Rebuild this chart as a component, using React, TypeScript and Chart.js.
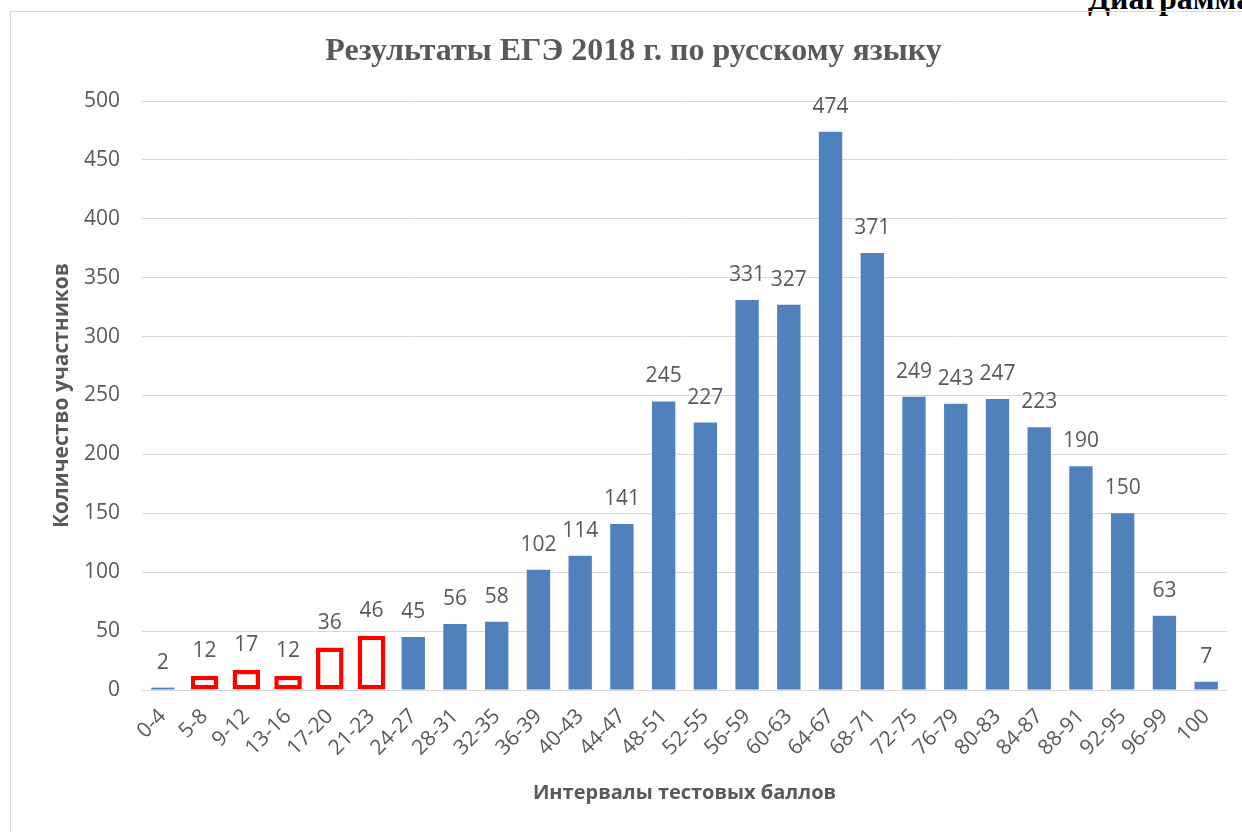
import React, { useEffect, useRef } from "react";
import { Chart, registerables } from "chart.js";

Chart.register(...registerables);

const categories = ["0-4", "5-8", "9-12", "13-16", "17-20", "21-23", "24-27", "28-31", "32-35", "36-39", "40-43", "44-47", "48-51", "52-55", "56-59", "60-63", "64-67", "68-71", "72-75", "76-79", "80-83", "84-87", "88-91", "92-95", "96-99", "100"];
const participants = [2, 12, 17, 12, 36, 46, 45, 56, 58, 102, 114, 141, 245, 227, 331, 327, 474, 371, 249, 243, 247, 223, 190, 150, 63, 7];
const highlighted = [false, true, true, true, true, true, false, false, false, false, false, false, false, false, false, false, false, false, false, false, false, false, false, false, false, false];
const yTicks = [0, 50, 100, 150, 200, 250, 300, 350, 400, 450, 500];

const TEXT = "#595959";
const SANS = "'Open Sans', 'Noto Sans', sans-serif";

const valueLabels = {
  id: "valueLabels",
  afterDatasetsDraw(chart: any) {
    const ctx = chart.ctx;
    ctx.save();
    ctx.font = `21px ${SANS}`;
    ctx.fillStyle = TEXT;
    ctx.textAlign = "center";
    ctx.textBaseline = "alphabetic";
    chart.data.datasets.forEach((ds: any, di: number) => {
      const meta = chart.getDatasetMeta(di);
      meta.data.forEach((el: any, i: number) => {
        const v = ds.data[i];
        if (v === null || v === undefined) return;
        ctx.fillText(String(v), el.x, el.y - 19);
      });
    });
    ctx.restore();
  },
};

export default function App() {
  const ref = useRef<HTMLCanvasElement>(null);
  useEffect(() => {
    if (!ref.current) return;
    const blue = participants.map((v, i) => (highlighted[i] ? null : v));
    const red = participants.map((v, i) => (highlighted[i] ? v : null));
    const chart = new Chart(ref.current, {
      type: "bar",
      data: {
        labels: categories,
        datasets: [
          {
            data: blue,
            backgroundColor: "#4F81BD",
            borderWidth: 0,
            barPercentage: 0.56,
            categoryPercentage: 1,
            grouped: false,
          },
          {
            data: red,
            backgroundColor: "#FFFFFF",
            borderColor: "#FF0000",
            borderWidth: 4.5,
            borderSkipped: false,
            barPercentage: 0.66,
            categoryPercentage: 1,
            grouped: false,
          },
        ],
      },
      options: {
        responsive: false,
        animation: false,
        events: [],
        layout: { padding: { left: 40, top: 11, right: 15, bottom: 0 } },
        plugins: {
          legend: { display: false },
          tooltip: { enabled: false },
          title: {
            display: true,
            text: "Результаты ЕГЭ 2018 г. по русскому языку",
            color: TEXT,
            font: { family: "'Liberation Serif', 'Times New Roman', serif", size: 32, weight: "bold" },
            padding: { top: 22, bottom: 29.6 },
          },
        },
        scales: {
          x: {
            grid: { display: false, drawTicks: false },
            border: { display: false },
            ticks: {
              color: TEXT,
              font: { family: SANS, size: 21 },
              minRotation: 45,
              maxRotation: 45,
              autoSkip: false,
              padding: 14,
            },
            title: {
              display: true,
              text: "Интервалы тестовых баллов",
              color: TEXT,
              font: { family: SANS, size: 20, weight: "bold" },
              padding: { top: 0, bottom: 27 },
            },
            afterFit(scale: any) {
              scale.height = 142;
            },
          },
          y: {
            min: 0,
            max: 500,
            afterBuildTicks(scale: any) {
              scale.ticks = yTicks.map((v) => ({ value: v }));
            },
            grid: { color: "#D9D9D9", lineWidth: 1, drawTicks: false },
            border: { display: false },
            ticks: {
              color: TEXT,
              font: { family: SANS, size: 21 },
              padding: 22,
            },
            title: {
              display: true,
              text: "Количество участников",
              color: TEXT,
              font: { family: SANS, size: 21, weight: "bold" },
              padding: { top: 9, bottom: 0 },
            },
            afterFit(scale: any) {
              scale.width = 102;
            },
          },
        },
      },
      plugins: [valueLabels],
    });
    return () => chart.destroy();
  }, []);

  return (
    <div style={{ position: "absolute", left: 0, top: 0, width: 1242, height: 832, overflow: "hidden", background: "#fff" }}>
      <div
        style={{
          position: "absolute",
          left: 1088,
          top: -18,
          whiteSpace: "nowrap",
          fontFamily: "'Liberation Serif', 'Times New Roman', serif",
          fontWeight: "bold",
          fontSize: 32,
          lineHeight: "32px",
          color: "#000",
        }}
      >
        Диаграмма 1
      </div>
      <div style={{ position: "absolute", left: 10, top: 11, width: 1232, height: 1, background: "#D9D9D9" }} />
      <div style={{ position: "absolute", left: 10, top: 11, width: 1, height: 821, background: "#D9D9D9" }} />
      <canvas ref={ref} width={1242} height={832} style={{ position: "absolute", left: 0, top: 0 }} />
    </div>
  );
}
